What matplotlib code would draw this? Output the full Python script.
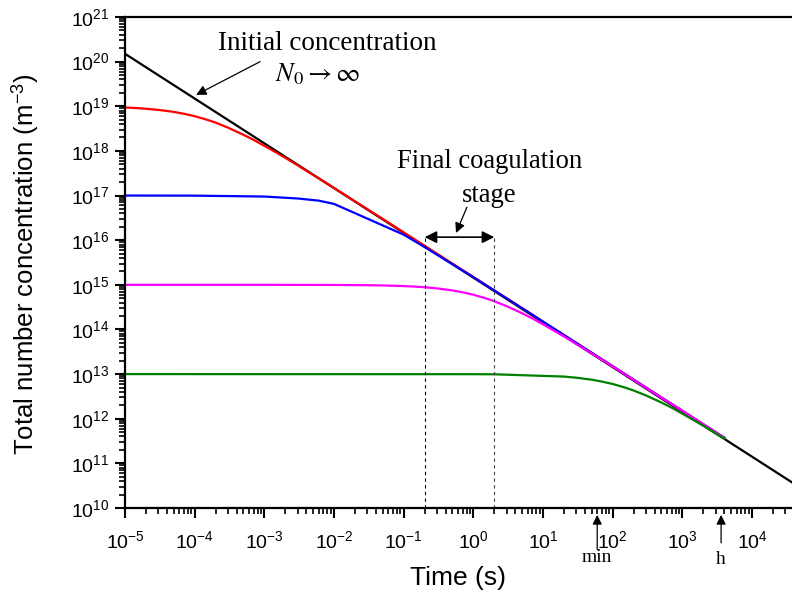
import matplotlib
matplotlib.use("Agg")
import matplotlib.pyplot as plt
from matplotlib.ticker import LogLocator, NullFormatter

plt.rcParams['font.family'] = ['Liberation Sans', 'DejaVu Sans']
plt.rcParams['mathtext.fontset'] = 'stix'
plt.rcParams['axes.unicode_minus'] = False

# ---- data ----
t_black = [1e-5, 3.75e4]
n_black = [1.5e20, 3.75e10]

t_red = [1e-5, 1.5e-5, 2e-5, 3e-5, 5e-5, 7e-5, 1e-4, 1.5e-4, 2e-4, 3e-4, 5e-4, 7e-4,
         1e-3, 1.5e-3, 2e-3, 3e-3, 5e-3, 1e-2, 2e-2, 5e-2,
         0.1, 0.2, 0.5, 1, 2, 5, 10, 20, 50, 100, 200, 500, 1000, 2000, 4000]
n_red = [9.4e18, 9.1e18, 8.8e18, 8.3e18, 7.5e18, 6.8e18, 6.0e18, 5.0e18, 4.3e18,
         3.33e18, 2.3e18, 1.77e18, 1.3e18, 9.1e17, 7.0e17, 4.76e17, 2.9e17,
         1.48e17, 7.4e16, 3.0e16, 1.5e16, 7.5e15, 3.0e15, 1.5e15, 7.5e14, 3.0e14,
         1.5e14, 7.5e13, 3.0e13, 1.5e13, 7.5e12, 3.0e12, 1.5e12, 7.5e11, 3.75e11]

t_blue = [1e-5, 1e-4, 1e-3, 3e-3, 6e-3, 1e-2, 0.1, 0.2, 0.5, 1, 2, 5, 10, 20,
          50, 100, 200, 500, 1000, 2000, 4000]
n_blue = [1.0e17, 9.95e16, 9.5e16, 8.6e16, 7.7e16, 6.5e16, 1.33e16, 7.0e15, 2.9e15,
          1.48e15, 7.45e14, 3.0e14, 1.5e14, 7.5e13, 3.0e13, 1.5e13, 7.5e12, 3.0e12,
          1.5e12, 7.5e11, 3.75e11]

t_mag = [1e-5, 1e-3, 1e-2, 0.03, 0.05, 0.1, 0.15, 0.2, 0.3, 0.5, 0.7, 1, 1.5, 2, 3,
         5, 7, 10, 20, 50, 100, 200, 500, 1000, 2000, 4000]
n_mag = [1.0e15, 1.0e15, 9.93e14, 9.8e14, 9.68e14, 9.37e14, 9.1e14, 8.82e14, 8.33e14,
         7.5e14, 6.8e14, 6.0e14, 5.0e14, 4.28e14, 3.33e14, 2.31e14, 1.77e14,
         1.3e14, 6.97e13, 2.9e13, 1.48e13, 7.4e12, 2.98e12, 1.5e12, 7.5e11, 3.74e11]

t_green = [1e-5, 1, 2, 20, 30, 50, 70, 100, 150, 200, 300, 500, 700, 1000, 2000, 4000]
n_green = [1.0e13, 9.95e12, 9.9e12, 8.8e12, 8.3e12, 7.5e12, 6.8e12, 6.0e12, 5.0e12,
           4.28e12, 3.33e12, 2.31e12, 1.77e12, 1.3e12, 6.97e11, 3.6e11]

stage_start, stage_end = 0.2, 2.0
t_min, t_hour = 60, 3600

# ---- figure ----
fig = plt.figure(figsize=(7.92, 5.96), dpi=100)
ax = fig.add_axes([125/792, 1-508/596, 1-125/792, (508-17)/596])

ax.plot(t_black, n_black, color='black', lw=1.6)
ax.plot(t_red, n_red, color='#ff0000', lw=1.6)
ax.plot(t_blue, n_blue, color='#0000ff', lw=1.6)
ax.plot(t_mag, n_mag, color='#ff00ff', lw=1.6)
ax.plot(t_green, n_green, color='#008000', lw=1.6)

ax.set_xscale('log')
ax.set_yscale('log')
ax.set_xlim(1e-5, 3.75e4)
ax.set_ylim(1e10, 1e21)

ax.xaxis.set_major_locator(LogLocator(base=10, numticks=20))
ax.xaxis.set_minor_locator(LogLocator(base=10, subs=range(2, 10), numticks=200))
ax.yaxis.set_major_locator(LogLocator(base=10, numticks=20))
ax.yaxis.set_minor_locator(LogLocator(base=10, subs=range(2, 10), numticks=200))
ax.xaxis.set_minor_formatter(NullFormatter())
ax.yaxis.set_minor_formatter(NullFormatter())

ax.tick_params(which='major', direction='out', length=7, width=1.5, labelsize=14,
               top=False, right=False)
ax.tick_params(which='minor', direction='out', length=4.3, width=1.2, top=False, right=False)
ax.tick_params(axis='x', pad=9)
ax.tick_params(axis='y', pad=4)
for s in ['left', 'bottom', 'top']:
    ax.spines[s].set_linewidth(1.6)
ax.spines['right'].set_visible(False)

ax.set_xlabel('Time (s)', fontsize=19, labelpad=10)
ax.set_ylabel(r'Total number concentration (m$^{\mathdefault{-3}}$)', fontsize=18.5)
ax.yaxis.set_label_coords(-0.126, 0.497)

serif = 'Liberation Serif'
ax.text(0.139, 0.947, 'Initial concentration', transform=ax.transAxes,
        fontsize=19.5, family=serif, ha='left', va='center')
ax.text(0.225, 0.884, r'$N_0 \rightarrow \infty$', transform=ax.transAxes,
        fontsize=19, ha='left', va='center')
ax.annotate('', xy=(1.05e-4, 1.8e19), xytext=(8.7e-4, 1.0e20),
            arrowprops=dict(arrowstyle='-|>', color='black', lw=0.9,
                            mutation_scale=15, shrinkA=0, shrinkB=0))

ax.text(0.546, 0.705, 'Final coagulation', transform=ax.transAxes,
        fontsize=19.2, family=serif, ha='center', va='center')
ax.text(0.546, 0.637, 'stage', transform=ax.transAxes,
        fontsize=19.2, family=serif, ha='center', va='center')
y_stage = 1.17e16
ax.annotate('', xy=(0.564, 1.45e16), xytext=(0.81, 5.5e16),
            arrowprops=dict(arrowstyle='-|>', color='black', lw=0.9,
                            mutation_scale=15, shrinkA=0, shrinkB=0))
ax.annotate('', xy=(stage_start, y_stage), xytext=(stage_end, y_stage),
            arrowprops=dict(arrowstyle='<|-|>', color='black', lw=1.2,
                            mutation_scale=18, shrinkA=0, shrinkB=0))
ax.plot([stage_start, stage_start], [1e10, y_stage], color='black', lw=0.8,
        ls=(0, (3, 3)))
ax.plot([stage_end, stage_end], [1e10, y_stage], color='#444444', lw=0.8,
        ls=(0, (3, 3)))

trans = ax.get_xaxis_transform()
for tt, lab, y0, ylab in [(t_min, 'min', -0.085, -0.083), (t_hour, 'h', -0.071, -0.088)]:
    ax.annotate('', xy=(tt, -0.014), xytext=(tt, y0), xycoords=trans, textcoords=trans,
                arrowprops=dict(arrowstyle='-|>', color='black', lw=0.9,
                                mutation_scale=14, shrinkA=0, shrinkB=0),
                annotation_clip=False)
    ax.text(tt, ylab, lab, transform=trans, fontsize=14, family=serif,
            ha='center', va='top', clip_on=False)

fig.savefig('out.png', dpi=100)
